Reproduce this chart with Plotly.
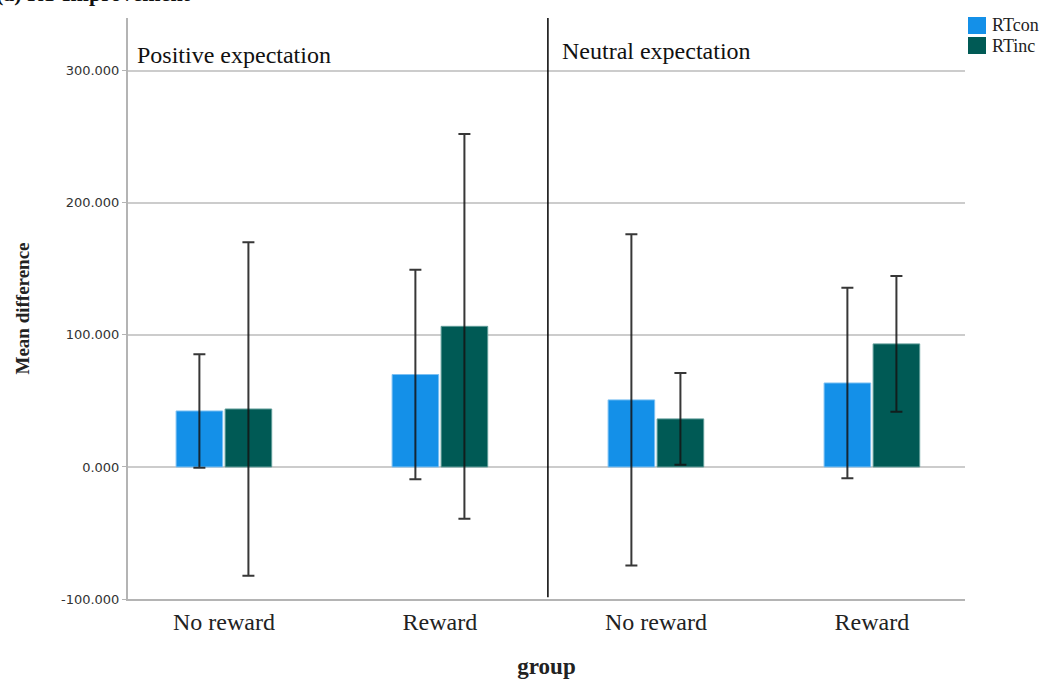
import plotly.graph_objects as go

categories = ["No reward", "Reward", "No reward", "Reward"]
cat_pos = [0, 1, 2, 3]
rtcon_mean = [42.4, 70.0, 50.8, 63.6]
rtcon_err = [43.0, 79.3, 125.5, 72.2]
rtinc_mean = [43.9, 106.5, 36.4, 93.2]
rtinc_err = [126.2, 145.7, 34.8, 51.4]
series_names = ["RTcon", "RTinc"]
series_colors = ["#1490E8", "#005A55"]
panel_labels = ["Positive expectation", "Neutral expectation"]
y_ticks = [-100, 0, 100, 200, 300]
y_tick_labels = ["-100.000", "0.000", "100.000", "200.000", "300.000"]

SERIF = "Liberation Serif"
W, H = 1051, 679
L, R, T, B = 128, 86, 18, 80
PW, PH = W - L - R, H - T - B


def px_x(p):
    return (p - L) / PW


def px_y(p):
    return (H - B - p) / PH


fig = go.Figure()
fig.add_trace(go.Bar(
    x=cat_pos, y=rtcon_mean, name=series_names[0],
    marker=dict(color=series_colors[0], line=dict(color="#7cc0f2", width=1)),
    error_y=dict(type="data", array=rtcon_err, visible=True,
                 color="rgba(20,20,20,0.85)", thickness=2, width=6),
))
fig.add_trace(go.Bar(
    x=cat_pos, y=rtinc_mean, name=series_names[1],
    marker=dict(color=series_colors[1], line=dict(color="#5f9c98", width=1)),
    error_y=dict(type="data", array=rtinc_err, visible=True,
                 color="rgba(20,20,20,0.85)", thickness=2, width=6),
))

fig.update_layout(
    width=W, height=H,
    margin=dict(l=L, r=R, t=T, b=B, autoexpand=False),
    paper_bgcolor="white", plot_bgcolor="white",
    barmode="group", bargap=0.546, bargroupgap=0.05,
    showlegend=False,
    xaxis=dict(
        range=[-0.444, 3.431], tickmode="array", tickvals=cat_pos,
        ticktext=categories, showgrid=False, zeroline=False,
        showline=True, linecolor="#b4b4b4", linewidth=2,
        ticks="", tickfont=dict(family=SERIF, size=24, color="#222"),
        title=dict(text="<b>group</b>", font=dict(family=SERIF, size=23, color="#222"),
                   standoff=26),
    ),
    yaxis=dict(
        range=[-100, 340], tickmode="array", tickvals=y_ticks,
        ticktext=y_tick_labels, showgrid=True, gridcolor="#cccccc", gridwidth=1.5,
        zeroline=False, showline=True, linecolor="#b4b4b4", linewidth=2,
        ticks="outside", ticklen=4, tickcolor="#b4b4b4",
        tickfont=dict(family="DejaVu Sans", size=13, color="#333"),
        title=dict(text="<b>Mean difference</b>", font=dict(family=SERIF, size=19, color="#222"),
                   standoff=26),
    ),
)

# divider between panels
fig.add_shape(type="line", xref="x", yref="paper", x0=1.5, x1=1.5, y0=0.003, y1=1.0,
              line=dict(color="black", width=1.5))

fig.add_annotation(text=panel_labels[0], xref="paper", yref="y", x=0.008, y=312,
                   xanchor="left", yanchor="middle", showarrow=False,
                   font=dict(family=SERIF, size=24, color="#111"))
fig.add_annotation(text=panel_labels[1], xref="x", yref="y", x=1.555, y=315,
                   xanchor="left", yanchor="middle", showarrow=False,
                   font=dict(family=SERIF, size=24, color="#111"))

# legend (drawn as key squares + text)
key_tops = [17, 37]
for name, col, top in zip(series_names, series_colors, key_tops):
    fig.add_shape(type="rect", xref="paper", yref="paper",
                  x0=px_x(968), x1=px_x(986), y0=px_y(top + 17), y1=px_y(top),
                  fillcolor=col, line=dict(width=0))
    fig.add_annotation(text=name, xref="paper", yref="paper",
                       x=px_x(990), y=px_y(top + 8.5), xanchor="left", yanchor="middle",
                       showarrow=False, font=dict(family=SERIF, size=18, color="#222"))

# title, clipped at the very top as in the source image
fig.add_annotation(text="<b>(a) RT Improvement</b>", xref="paper", yref="paper",
                   x=px_x(-6), y=px_y(8), xanchor="left", yanchor="bottom", showarrow=False,
                   font=dict(family=SERIF, size=22, color="#111"))

fig.write_html("out.html", config={"displayModeBar": False},
               post_script="document.body.style.margin='0px';")
